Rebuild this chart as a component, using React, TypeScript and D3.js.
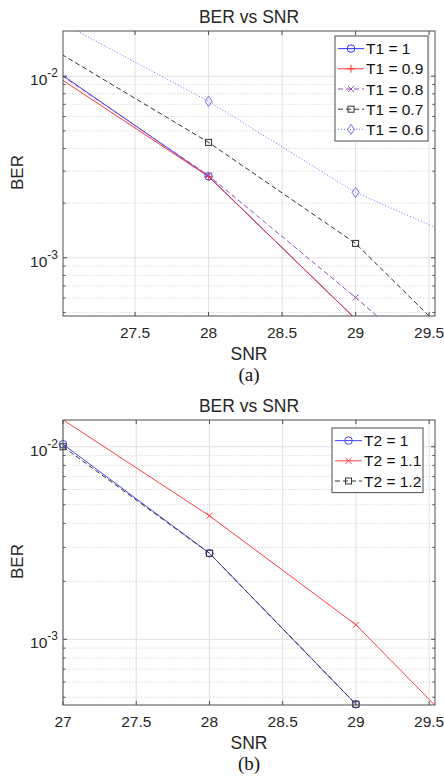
import * as d3 from "d3";
import React from "react";

// SNR sample points (same for both panels)
const snr = [27, 28, 29, 30];

// panel (a): T1 sweep
const berT1_10 = [0.0102, 0.00281, 0.00046, 0.00007];
const berT1_09 = [0.0096, 0.0028, 0.00046, 0.00007];
const berT1_08 = [0.0101, 0.00284, 0.000604, 0.00012];
const berT1_07 = [0.0132, 0.00432, 0.0012, 0.00019];
const berT1_06 = [0.0197, 0.00727, 0.00229, 0.00101];
const labelsT1 = ["T1 = 1", "T1 = 0.9", "T1 = 0.8", "T1 = 0.7", "T1 = 0.6"];

// panel (b): T2 sweep
const berT2_10 = [0.0103, 0.0028, 0.00046, 0.00007];
const berT2_11 = [0.0138, 0.00438, 0.00119, 0.0002];
const berT2_12 = [0.01, 0.0028, 0.00046, 0.00007];
const labelsT2 = ["T2 = 1", "T2 = 1.1", "T2 = 1.2"];

type Marker = "o" | "+" | "x" | "s" | "d";
type Series = { label: string; values: number[]; color: string; dash?: string; marker: Marker };

const FONT = "'Liberation Sans', Arial, Helvetica, sans-serif";
const AXIS = "#4d4d4d";

const drawMarker = (m: Marker, x: number, y: number, color: string, key?: any) => {
  const p = { stroke: color, strokeWidth: 1, fill: "none", key };
  if (m === "o") return <circle {...p} cx={x} cy={y} r={3.8} />;
  if (m === "+") return <path {...p} d={`M${x - 4},${y}H${x + 4}M${x},${y - 4}V${y + 4}`} />;
  if (m === "x") return <path {...p} d={`M${x - 3},${y - 3}L${x + 3},${y + 3}M${x - 3},${y + 3}L${x + 3},${y - 3}`} />;
  if (m === "s") return <rect {...p} x={x - 3} y={y - 3} width={6} height={6} />;
  return <path {...p} d={`M${x},${y - 5}L${x + 3.5},${y}L${x},${y + 5}L${x - 3.5},${y}Z`} />;
};

type PanelProps = {
  id: string;
  top: number;
  xDomain: [number, number];
  yDomain: [number, number];
  series: Series[];
  legend: { x: number; y: number; w: number; rowH: number; sample: number };
  caption: string;
};

const Panel = ({ id, top, xDomain, yDomain, series, legend, caption }: PanelProps) => {
  const left = 63, right = 435, h = 285;
  const bottom = top + h;
  const x = d3.scaleLinear().domain(xDomain).range([left, right]);
  const y = d3.scaleLog().domain(yDomain).range([bottom, top]);
  const xTicks = x.ticks(6);
  const yTicks = y.ticks();
  const isMajor = (v: number) => Math.abs(Math.log10(v) - Math.round(Math.log10(v))) < 1e-6;
  const line = d3.line<number>().x((_, i) => x(snr[i])).y((d) => y(d));
  const clip = "clip-" + id;
  const cx = (left + right) / 2;

  return (
    <g>
      <defs>
        <clipPath id={clip}>
          <rect x={left} y={top} width={right - left} height={h} />
        </clipPath>
      </defs>
      {/* grid */}
      {yTicks.filter((v) => !isMajor(v)).map((v, i) => (
        <line key={"gm" + i} x1={left} x2={right} y1={y(v)} y2={y(v)} stroke="#d4d4d4" strokeWidth={0.8} strokeDasharray="1.5,1.5" />
      ))}
      {yTicks.filter(isMajor).map((v, i) => (
        <line key={"gy" + i} x1={left} x2={right} y1={y(v)} y2={y(v)} stroke="#e0e0e0" strokeWidth={1} />
      ))}
      {xTicks.map((v, i) => (
        <line key={"gx" + i} x1={x(v)} x2={x(v)} y1={top} y2={bottom} stroke="#e0e0e0" strokeWidth={1} />
      ))}
      {/* series */}
      <g clipPath={`url(#${clip})`}>
        {series.map((s, i) => (
          <path key={"l" + i} d={line(s.values) || ""} fill="none" stroke={s.color} strokeWidth={1} strokeDasharray={s.dash} />
        ))}
      </g>
      {series.map((s, i) =>
        s.values.map((v, j) => {
          const sx = snr[j];
          if (sx < xDomain[0] || sx > xDomain[1] || v < yDomain[0] * 0.98 || v > yDomain[1]) return null;
          return drawMarker(s.marker, x(sx), y(v), s.color, `m${i}-${j}`);
        })
      )}
      {/* axes box and ticks */}
      <rect x={left} y={top} width={right - left} height={h} fill="none" stroke={AXIS} strokeWidth={1} />
      {xTicks.map((v, i) => (
        <g key={"xt" + i}>
          <line x1={x(v)} x2={x(v)} y1={bottom} y2={bottom - 4} stroke={AXIS} />
          <line x1={x(v)} x2={x(v)} y1={top} y2={top + 4} stroke={AXIS} />
          <text x={x(v)} y={bottom + 22} textAnchor="middle" fontFamily={FONT} fontSize={15.5} fill="#262626">
            {String(v)}
          </text>
        </g>
      ))}
      {yTicks.map((v, i) => {
        const len = isMajor(v) ? 4 : 2.5;
        return (
          <g key={"yt" + i}>
            <line x1={left} x2={left + len} y1={y(v)} y2={y(v)} stroke={AXIS} />
            <line x1={right} x2={right - len} y1={y(v)} y2={y(v)} stroke={AXIS} />
          </g>
        );
      })}
      {yTicks.filter(isMajor).map((v, i) => (
        <text key={"yl" + i} x={58} y={y(v) + 9} textAnchor="end" fontFamily={FONT} fill="#262626">
          <tspan fontSize={15.5}>10</tspan>
          <tspan fontSize={12} dy={-8}>{String(Math.round(Math.log10(v)))}</tspan>
        </text>
      ))}
      {/* labels */}
      <text x={cx} y={top - 8} textAnchor="middle" fontFamily={FONT} fontSize={17.5} fill="#262626">
        BER vs SNR
      </text>
      <text x={cx} y={bottom + 44} textAnchor="middle" fontFamily={FONT} fontSize={17.5} fill="#262626">
        SNR
      </text>
      <text transform={`translate(23,${top + h / 2 - 1}) rotate(-90)`} textAnchor="middle" fontFamily={FONT} fontSize={17} fill="#262626">
        BER
      </text>
      <text x={cx} y={bottom + 65} textAnchor="middle" fontFamily="'Liberation Serif', 'Times New Roman', serif" fontSize={19} fill="#111">
        {caption}
      </text>
      {/* legend */}
      <rect x={legend.x} y={legend.y} width={legend.w} height={series.length * legend.rowH + 4} fill="#fff" stroke={AXIS} strokeWidth={1} />
      {series.map((s, i) => {
        const ry = legend.y + 2 + legend.rowH * (i + 0.5) + 0.5;
        const x0 = legend.x + 3, x1 = x0 + legend.sample;
        return (
          <g key={"lg" + i}>
            <line x1={x0} x2={x1} y1={ry} y2={ry} stroke={s.color} strokeWidth={1} strokeDasharray={s.dash} />
            {drawMarker(s.marker, (x0 + x1) / 2, ry, s.color)}
            <text x={x1 + 2} y={ry + 5.5} fontFamily={FONT} fontSize={15.5} fill="#111">
              {s.label}
            </text>
          </g>
        );
      })}
    </g>
  );
};

const seriesA: Series[] = [
  { label: labelsT1[0], values: berT1_10, color: "#3333ff", marker: "o" },
  { label: labelsT1[1], values: berT1_09, color: "#ff3333", marker: "+" },
  { label: labelsT1[2], values: berT1_08, color: "#9050b8", dash: "5,3", marker: "x" },
  { label: labelsT1[3], values: berT1_07, color: "#333333", dash: "5,3", marker: "s" },
  { label: labelsT1[4], values: berT1_06, color: "#6f6fff", dash: "1,2", marker: "d" },
];

const seriesB: Series[] = [
  { label: labelsT2[0], values: berT2_10, color: "#4444ff", marker: "o" },
  { label: labelsT2[1], values: berT2_11, color: "#ff4040", marker: "x" },
  { label: labelsT2[2], values: berT2_12, color: "#333333", dash: "5,3", marker: "s" },
];

export default function App() {
  return (
    <svg width={444} height={778} style={{ position: "absolute", left: 0, top: 0, background: "#fff" }}>
      <rect width={444} height={778} fill="#fff" />
      <Panel
        id="a"
        top={31}
        xDomain={[27.01, 29.54]}
        yDomain={[0.000478, 0.01774]}
        series={seriesA}
        legend={{ x: 335, y: 36, w: 93, rowH: 20.2, sample: 26 }}
        caption="(a)"
      />
      <Panel
        id="b"
        top={420}
        xDomain={[27, 29.54]}
        yDomain={[0.000456, 0.01377]}
        series={seriesB}
        legend={{ x: 332, y: 428, w: 91, rowH: 20.2, sample: 27 }}
        caption="(b)"
      />
    </svg>
  );
}
